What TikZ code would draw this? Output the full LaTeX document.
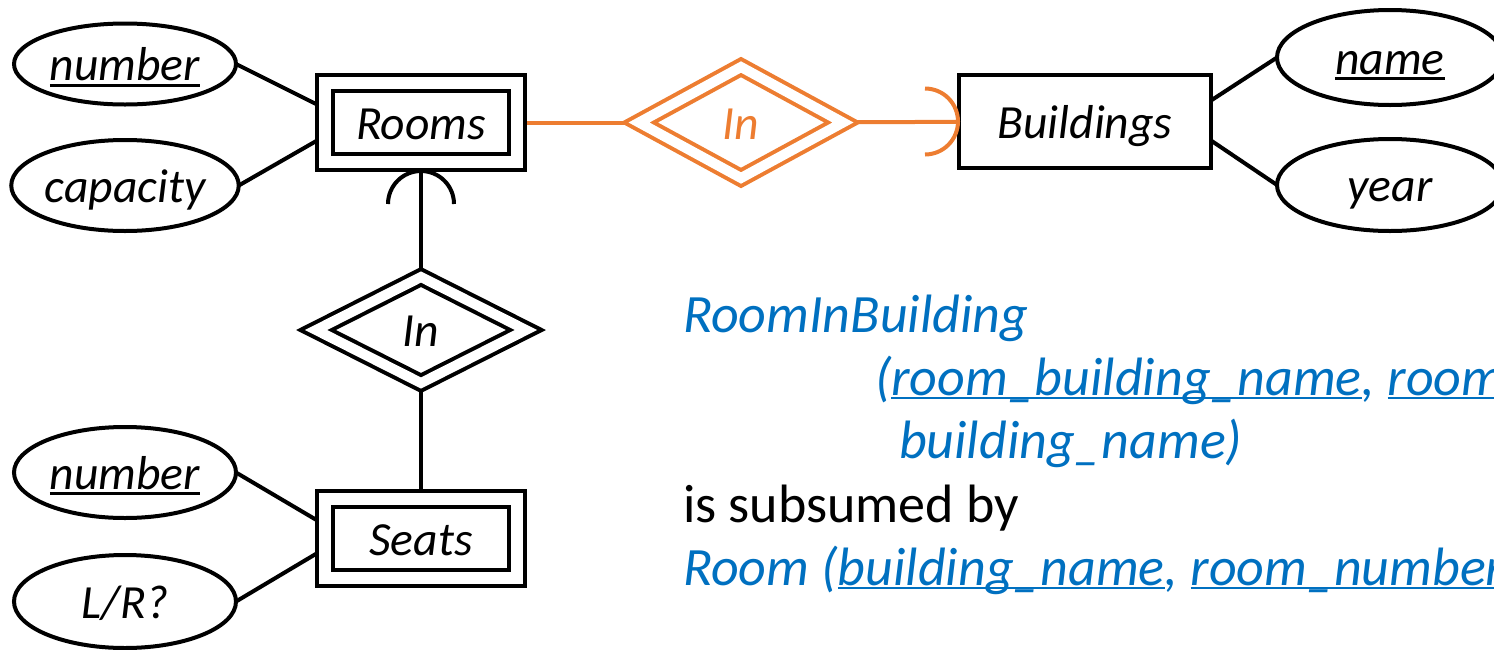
\documentclass[tikz,border=0pt]{standalone}
\usepackage{fontspec}
\setmainfont{Carlito}
\usetikzlibrary{shapes.geometric,calc,backgrounds}
\definecolor{erorange}{HTML}{ED7D31}
\definecolor{erblue}{HTML}{0070C0}
\newcommand\ulA[1]{\setbox0\hbox{#1}\rlap{\smash{\rule[-3.2pt]{\wd0}{1.5pt}}}\box0}
\newcommand\ulB[1]{\setbox0\hbox{#1}\rlap{\smash{\rule[-2pt]{\wd0}{1.1pt}}}\box0}
\begin{document}
\begin{tikzpicture}[x=0.5pt,y=0.5pt,line width=2pt,
  lbl/.style={font=\fontsize{23.8}{28}\selectfont\itshape,text height=16.5pt,text depth=0pt},
  attr/.style={ellipse,draw,fill=white,inner sep=0pt,outer sep=0pt,minimum width=111pt,lbl},
  weakent/.style={rectangle,draw,double,double distance=6pt,fill=white,inner sep=0pt,outer sep=0pt,minimum width=96pt,minimum height=39.5pt,lbl},
  strongent/.style={rectangle,draw,fill=white,inner sep=0pt,outer sep=0pt,minimum width=126pt,minimum height=46.5pt,lbl},
  idrel/.style={diamond,draw,double,double distance=5pt,fill=white,inner sep=0pt,outer sep=0pt,lbl},
  blk/.style={anchor=base west,inner sep=0pt,outer sep=0pt,font=\fontsize{27}{32}\selectfont},
  conn/.style={line width=2pt}]
\useasboundingbox (0,0) rectangle (1494,-649);
\clip (0,0) rectangle (1494,-649);
% attributes
\node[attr,minimum height=40.5pt] (num1) at (125,-64) {\ulA{number}};
\node[attr,minimum height=45.5pt] (cap) at (125,-185.5) {capacity};
\node[attr,minimum height=45.5pt] (num2) at (125,-472.5) {\ulA{number}};
\node[attr,minimum height=46.5pt] (lr) at (125,-601.5) {L/R?};
\node[attr,minimum width=113pt,minimum height=47.5pt] (name) at (1390,-57.5) {\ulA{name}};
\node[attr,minimum width=113pt,minimum height=46pt] (year) at (1390,-185) {year};
% entities
\node[weakent] (rooms) at (421,-122.5) {Rooms};
\node[weakent] (seats) at (421,-538.5) {Seats};
\node[strongent] (bldg) at (1085,-121.5) {Buildings};
% relationships
\node[idrel,draw=erorange,text=erorange,minimum width=102pt,minimum height=55.5pt] (in1) at (741,-122.5) {In};
\node[idrel,minimum width=105pt,minimum height=53pt] (in2) at (421,-330) {In};
% connectors
\begin{pgfonlayer}{background}
\draw[conn] (num1.east) -- ($(rooms.west)+(0,14)$);
\draw[conn] (cap.east) -- ($(rooms.west)+(0,-13.5)$);
\draw[conn] (num2.east) -- ($(seats.west)+(0,13.5)$);
\draw[conn] (lr.east) -- ($(seats.west)+(0,-10)$);
\draw[conn] ($(bldg.east)+(0,21)$) -- (name.west);
\draw[conn] ($(bldg.east)+(0,-19)$) -- (year.west);
\draw[conn,erorange] (rooms) -- (in1);
\draw[conn,erorange] (in1) -- (bldg);
\draw[conn] (rooms) -- (in2);
\draw[conn] (in2) -- (seats);
\end{pgfonlayer}
% key-constraint arcs
\draw[conn] ($(rooms.south)+(-33,-42)$) arc[start angle=180,end angle=0,radius=16.5pt];
\draw[conn,erorange] ($(bldg.west)+(-34,33)$) arc[start angle=90,end angle=-90,radius=16.5pt];
% text block
\node[blk,text=erblue] (t1) at (683,-332) {\itshape RoomInBuilding};
\node[blk,text=erblue] (t2) at (875,-395) {\itshape (\ulB{room\_building\_name}, \ulB{room\_number},};
\node[blk,text=erblue] (t3) at (899,-458) {\itshape building\_name)};
\node[blk] (t4) at (683,-522) {is subsumed by};
\node[blk,text=erblue] (t5) at (683,-585) {\itshape Room (\ulB{building\_name}, \ulB{room\_number})};
\end{tikzpicture}
\end{document}
